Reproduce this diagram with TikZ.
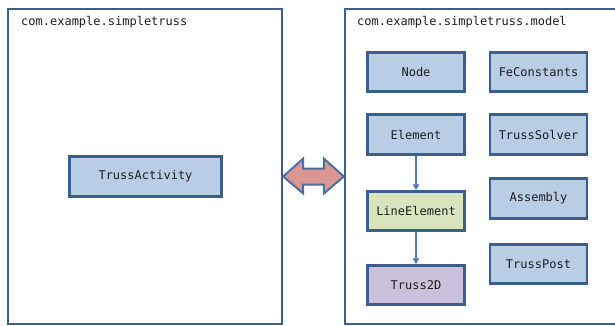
\documentclass[tikz,border=0pt]{standalone}
\usepackage{fontspec}
\newfontfamily\codefont{DejaVu Sans Mono}
\usetikzlibrary{calc,arrows.meta}

\definecolor{frameblue}{HTML}{3A5F8E}
\definecolor{boxfill}{HTML}{B9CDE5}
\definecolor{greenfill}{HTML}{D7E4BD}
\definecolor{purplefill}{HTML}{CCC1DA}
\definecolor{linkblue}{HTML}{4A7EBB}
\definecolor{arrowfill}{HTML}{D99694}
\definecolor{arrowedge}{HTML}{4F6E9B}
\definecolor{textgray}{HTML}{1E1E1E}

\tikzset{
  pkgframe/.style={draw=frameblue, line width=2.4bp, fill=white,
    rectangle, inner sep=0pt},
  pkgtitle/.style={anchor=west, inner sep=0pt, text=textgray,
    font=\codefont\fontsize{12bp}{14bp}\selectfont},
  classbox/.style={draw=frameblue, line width=2.6bp, fill=boxfill,
    rectangle, inner sep=0pt, minimum width=97bp, minimum height=39.5bp,
    text=textgray, font=\codefont\fontsize{12bp}{14bp}\selectfont},
  inherit/.style={draw=linkblue, line width=1.3bp,
    -{Triangle[length=5.5bp,width=6.5bp]}},
  bigarrow/.style={draw=arrowedge, line width=2bp, fill=arrowfill,
    line join=miter}
}

\begin{document}
\begin{tikzpicture}[x=1bp,y=-1bp]
  \useasboundingbox (0,0) rectangle (615,325);

  % package frames
  \node[pkgframe, minimum width=274bp, minimum height=315bp] (pkgA) at (145,166.5) {};
  \node[pkgframe, minimum width=276bp, minimum height=315bp] (pkgB) at (483,166.5) {};
  \node[pkgtitle] (titleA) at (21,22) {com.example.simpletruss};
  \node[pkgtitle] (titleB) at (357,22) {com.example.simpletruss.model};

  % activity package
  \node[classbox, minimum width=152bp, minimum height=40.5bp] (act) at (145.5,176.5) {TrussActivity};

  % model package, left column
  \node[classbox] (node)  at (416,72)    {Node};
  \node[classbox] (elem)  at (416,134.5) {Element};
  \node[classbox, fill=greenfill] (line) at (416,211) {LineElement};
  \node[classbox, fill=purplefill] (truss) at (416,285) {Truss2D};

  % model package, right column
  \node[classbox] (fec)   at (538.5,72)    {FeConstants};
  \node[classbox] (solv)  at (538.5,134.5) {TrussSolver};
  \node[classbox] (asm)   at (538.5,198.5) {Assembly};
  \node[classbox] (post)  at (538.5,264)   {TrussPost};

  % inheritance chain
  \draw[inherit] (elem.south) -- (line.north);
  \draw[inherit] (line.south) -- (truss.north);

  % block double arrow between the two packages
  \coordinate (tipL) at (pkgA.east |- act.center);
  \coordinate (tipR) at (pkgB.west |- act.center);
  \draw[bigarrow]
    (tipL) -- ($(tipL)+(20,-18)$) -- ($(tipL)+(20,-8)$)
    -- ($(tipR)+(-20,-8)$) -- ($(tipR)+(-20,-18)$) -- (tipR)
    -- ($(tipR)+(-20,17)$) -- ($(tipR)+(-20,8)$)
    -- ($(tipL)+(20,8)$) -- ($(tipL)+(20,17)$) -- cycle;
\end{tikzpicture}
\end{document}
